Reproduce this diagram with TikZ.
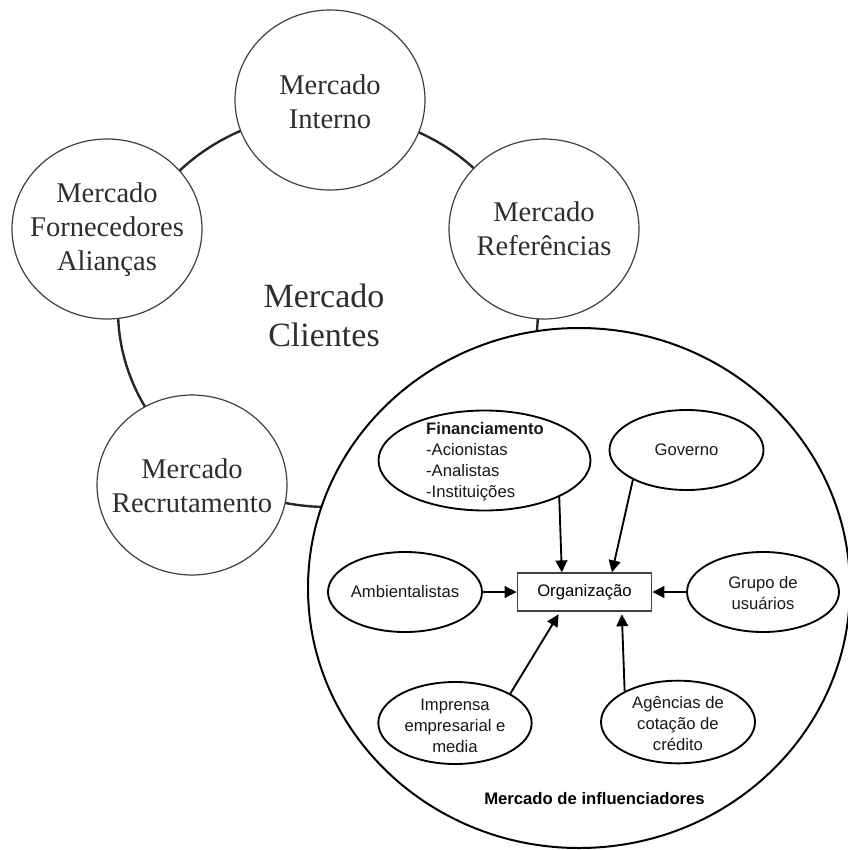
\documentclass[tikz,border=0pt]{standalone}
\usepackage{fontspec}
\setmainfont{Liberation Serif}
\newfontfamily\arialf{Liberation Sans}
\usetikzlibrary{shapes.geometric,arrows.meta,calc}
\begin{document}
\begin{tikzpicture}[x=0.75pt,y=-0.75pt,
  mkt/.style={ellipse,draw=black!75,line width=0.9pt,fill=white,minimum width=142.5pt,minimum height=135pt,inner sep=0pt},
  mkttxt/.style={align=center,text=black!82,inner sep=0pt,font=\fontsize{21.4}{25.5}\selectfont},
  infl/.style={ellipse,draw=black,line width=1.4pt,fill=white,inner sep=0pt},
  infltxt/.style={inner sep=0pt,align=center,text=black!90,font=\arialf\fontsize{12.5}{15.7}\selectfont},
  arr/.style={line width=1.4pt,-{Triangle[length=9pt,width=8.8pt]}},
]
\useasboundingbox (0,0) rectangle (848,850);
% outer ring of markets
\draw[line width=1.8pt,black!85] (328,310) ellipse [x radius=157.5pt,y radius=147.75pt];
\node[mkt] (int) at (330,100) {};
\node[mkttxt] (intt) at (330,102) {Mercado\\Interno};
\node[mkt] (forn) at (107,229) {};
\node[mkttxt] (fornt) at (107,230) {Mercado\\Fornecedores\\Alianças};
\node[mkt] (ref) at (544,229) {};
\node[mkttxt] (reft) at (544,229) {Mercado\\Referências};
\node[mkt] (rec) at (192,485) {};
\node[mkttxt] (rect) at (192,486) {Mercado\\Recrutamento};
\node[align=center,text=black!82,inner sep=0pt,font=\fontsize{25.5}{29.3}\selectfont] (cli) at (324,315) {Mercado\\Clientes};
% influencer market
\node[ellipse,draw=black,line width=1.5pt,fill=white,minimum width=406.5pt,minimum height=390pt,inner sep=0pt] (big) at (579,588) {};
\node[draw=black!75,line width=0.9pt,fill=white,minimum width=101pt,minimum height=28.5pt,inner sep=0pt,font=\arialf\fontsize{12.5}{15}\selectfont] (org) at (584.5,592) {Organização};
\node[infl,minimum width=159pt,minimum height=75pt] (fin) at (484.5,460.5) {};
\node[infltxt,align=left] (fint) at (485,462) {\textbf{Financiamento}\\-Acionistas\\-Analistas\\-Instituições};
\node[infl,minimum width=115.5pt,minimum height=60pt] (gov) at (686.5,450) {};
\node[infltxt] (govt) at (686.5,450) {Governo};
\node[infl,minimum width=115.5pt,minimum height=60pt] (amb) at (405,592) {};
\node[infltxt] (ambt) at (405,592) {Ambientalistas};
\node[infl,minimum width=114pt,minimum height=60pt] (gru) at (763,592) {};
\node[infltxt] (grut) at (763,593) {Grupo de\\usuários};
\node[infl,minimum width=115pt,minimum height=61.5pt] (imp) at (455,723) {};
\node[infltxt] (impt) at (455,726) {Imprensa\\empresarial e\\media};
\node[infl,minimum width=115.5pt,minimum height=62pt] (age) at (678,722) {};
\node[infltxt] (aget) at (678,723.6) {Agências de\\cotação de\\crédito};
\node[inner sep=0pt,font=\arialf\bfseries\fontsize{12.5}{15}\selectfont] (mi) at (594.5,799) {Mercado de influenciadores};
% arrows
\draw[arr] (fin.-26) -- ([xshift=-17pt]org.north);
\draw[arr] (gov.209) -- ([xshift=20.6pt]org.north);
\draw[arr] (amb.east) -- (org.west);
\draw[arr] (gru.west) -- (org.east);
\draw[arr] (imp.28) -- ([xshift=-19.4pt,yshift=-2pt]org.south);
\draw[arr] (age.150) -- ([xshift=28pt,yshift=-2pt]org.south);
\end{tikzpicture}
\end{document}
